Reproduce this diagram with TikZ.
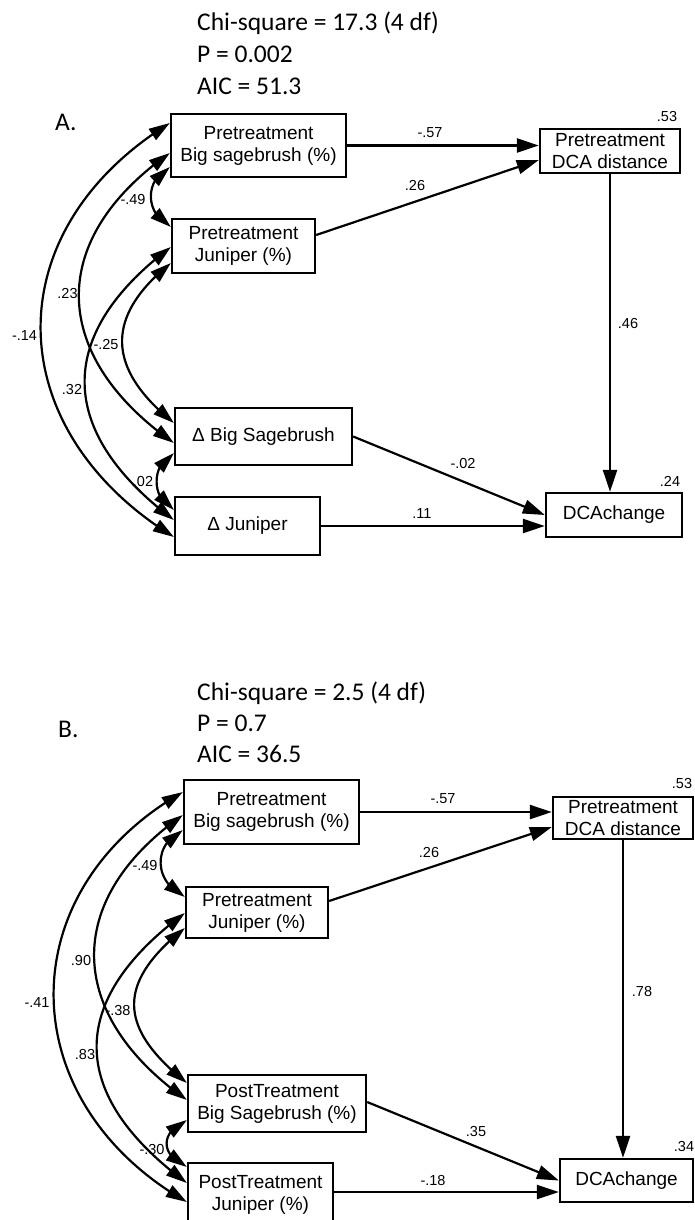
\documentclass[tikz,border=0pt]{standalone}
\usepackage{fontspec}
\setmainfont{Liberation Sans}
\newfontfamily\hdrfont{Carlito}
\usetikzlibrary{arrows.meta,bending,calc}
\begin{document}
\begin{tikzpicture}[x=1pt,y=-1pt,
  box/.style={draw, line width=2.3pt, inner sep=0pt, align=center, font=\fontsize{19}{22}\selectfont},
  lbl/.style={inner sep=0pt, font=\fontsize{14.5}{16}\selectfont},
  hdr/.style={inner sep=0pt, anchor=base west, font=\hdrfont\fontsize{25.5}{30}\selectfont},
  arr/.style={line width=2.2pt, -{Triangle[length=22pt,width=14pt]}},
  covarr/.style={line width=2.2pt, {Triangle[length=21pt,width=13pt]}-{Triangle[length=21pt,width=13pt]}},
]
\useasboundingbox (0,0) rectangle (694,1220);
\clip (0,0) rectangle (694,1220);

% ---------------- Panel A ----------------
\node[hdr] (hA1) at (197,31) {Chi-square = 17.3 (4 df)};
\node[hdr] (hA2) at (197,63) {P = 0.002};
\node[hdr] (hA3) at (197,95) {AIC = 51.3};
\node[hdr] (tA) at (55,131) {A.};

\node[box, minimum width=175pt, minimum height=63pt] (A1) at (258.5,145.5) {Pretreatment\\Big sagebrush (\%)};
\node[box, minimum width=143pt, minimum height=54pt] (A2) at (243.5,246) {Pretreatment\\Juniper (\%)};
\node[box, minimum width=177pt, minimum height=57pt] (A3) at (263.5,436.5) {Δ Big Sagebrush};
\node[box, minimum width=145pt, minimum height=58pt] (A4) at (247.5,526) {Δ Juniper};
\node[box, minimum width=140pt, minimum height=44pt] (AD) at (610,151) {Pretreatment\\DCA distance};
\node[box, minimum width=136pt, minimum height=44pt] (AC) at (614,515) {DCAchange};

\draw[arr] (A1.east) -- (A1.east -| AD.west);
\draw[arr] ([yshift=11pt]A2.east) -- ([yshift=-9pt]AD.west);
\draw[arr] (AD.south) -- (AD.south |- AC.north);
\draw[arr] (A3.east) -- (AC.west);
\draw[arr] (A4.east) -- (A4.east -| AC.west);

\draw[covarr] ([yshift=22.5pt]A1.west) .. controls +(-175,108) and +(-175,-108) .. ([yshift=-11pt]A4.west);
\draw[covarr] ([yshift=-7.5pt]A1.west) .. controls +(-124,87) and +(-124,-87) .. ([yshift=-6.5pt]A3.west);
\draw[covarr] ([yshift=-1pt]A2.west) .. controls +(-117,88) and +(-117,-88) .. ([yshift=6pt]A4.west);
\draw[covarr] ([yshift=-17pt]A2.west) .. controls +(-67,54) and +(-67,-54) .. ([yshift=13.5pt]A3.west);
\draw[covarr] ([yshift=-21.5pt]A1.west) .. controls +(-26,13) and +(-26,-13) .. ([yshift=19pt]A2.west);
\draw[covarr] ([yshift=-16.5pt]A3.west) .. controls +(-23,11) and +(-23,-11) .. ([yshift=16pt]A4.west);

\node[lbl] (lA1) at (430,132.5) {-.57};
\node[lbl] (lA2) at (415,186) {.26};
\node[lbl] (lA3) at (667,117) {.53};
\node[lbl] (lA4) at (628,324) {.46};
\node[lbl] (lA5) at (670,481) {.24};
\node[lbl] (lA6) at (463,464) {-.02};
\node[lbl] (lA7) at (422,514) {.11};
\node[lbl] (lA8) at (133,200) {-.49};
\node[lbl] (lA9) at (67.5,294) {.23};
\node[lbl] (lA10) at (24.5,336) {-.14};
\node[lbl] (lA11) at (106,345) {-.25};
\node[lbl] (lA12) at (72,390) {.32};
\node[lbl] (lA13) at (143,482) {.02};

% ---------------- Panel B ----------------
\node[hdr] (hB1) at (197,700) {Chi-square = 2.5 (4 df)};
\node[hdr] (hB2) at (197,731) {P = 0.7};
\node[hdr] (hB3) at (197,762) {AIC = 36.5};
\node[hdr] (tB) at (58,737) {B.};

\node[box, minimum width=175pt, minimum height=64pt] (B1) at (271.5,812) {Pretreatment\\Big sagebrush (\%)};
\node[box, minimum width=142pt, minimum height=51pt] (B2) at (257,912.5) {Pretreatment\\Juniper (\%)};
\node[box, minimum width=178pt, minimum height=57pt] (B3) at (277,1103.5) {PostTreatment\\Big Sagebrush (\%)};
\node[box, minimum width=145pt, minimum height=63pt] (B4) at (260.5,1194.5) {PostTreatment\\Juniper (\%)};
\node[box, minimum width=140pt, minimum height=42pt] (BD) at (623,818) {Pretreatment\\DCA distance};
\node[box, minimum width=133pt, minimum height=43pt] (BC) at (626.5,1180.5) {DCAchange};

\draw[arr] (B1.east) -- (B1.east -| BD.west);
\draw[arr] ([yshift=11.5pt]B2.east) -- ([yshift=-9pt]BD.west);
\draw[arr] (BD.south) -- (BD.south |- BC.north);
\draw[arr] ([yshift=1.5pt]B3.east) -- (BC.west);
\draw[arr] ([yshift=2.5pt]B4.east) -- ([yshift=2.5pt]B4.east -| BC.west);

\draw[covarr] ([yshift=20pt]B1.west) .. controls +(-175,100) and +(-175,-100) .. ([yshift=-7.5pt]B4.west);
\draw[covarr] ([yshift=-3pt]B1.west) .. controls +(-121,85) and +(-121,-85) .. ([yshift=3.5pt]B3.west);
\draw[covarr] ([yshift=-0.5pt]B2.west) .. controls +(-119,88) and +(-119,-88) .. ([yshift=11.5pt]B4.west);
\draw[covarr] ([yshift=-15.5pt]B2.west) .. controls +(-69,55) and +(-69,-55) .. ([yshift=20.5pt]B3.west);
\draw[covarr] ([yshift=-18pt]B1.west) .. controls +(-31,15) and +(-31,-15) .. ([yshift=15.5pt]B2.west);
\draw[covarr] ([yshift=-16.5pt]B3.west) .. controls +(-27,12) and +(-27,-12) .. ([yshift=27.5pt]B4.west);

\node[lbl] (lB1) at (443,799) {-.57};
\node[lbl] (lB2) at (429,852) {.26};
\node[lbl] (lB3) at (682,783) {.53};
\node[lbl] (lB4) at (642,991) {.78};
\node[lbl] (lB5) at (684,1146) {.34};
\node[lbl] (lB6) at (476,1131) {.35};
\node[lbl] (lB7) at (433,1180) {-.18};
\node[lbl] (lB8) at (145,865) {-.49};
\node[lbl] (lB9) at (81,960) {.90};
\node[lbl] (lB10) at (37,1002) {-.41};
\node[lbl] (lB11) at (118,1010) {-.38};
\node[lbl] (lB12) at (85,1054) {.83};
\node[lbl] (lB13) at (152,1149) {-.30};
\end{tikzpicture}
\end{document}
